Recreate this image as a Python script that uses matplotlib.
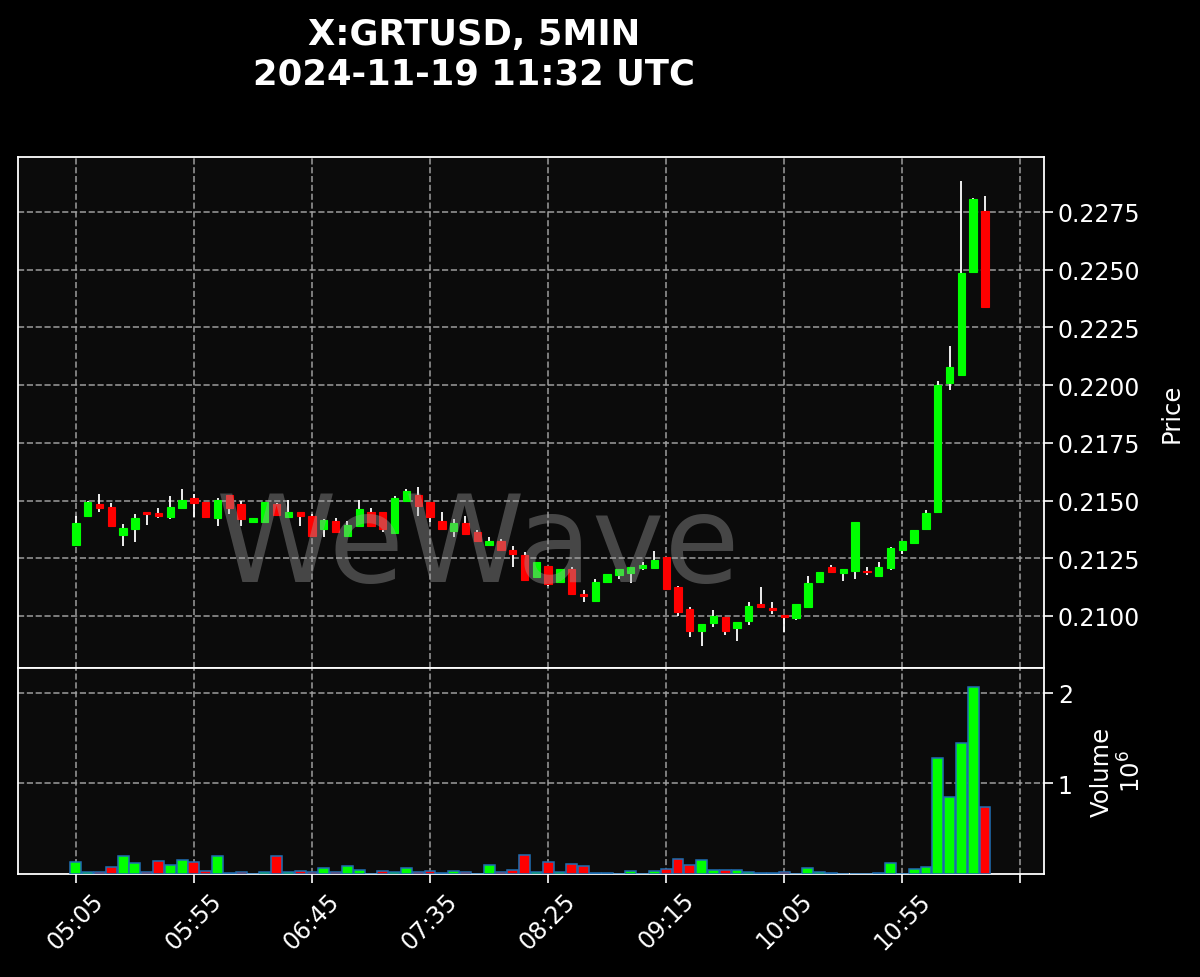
import matplotlib

matplotlib.use("Agg")
import matplotlib.pyplot as plt
import numpy as np

plt.rcParams["font.family"] = ["DejaVu Sans"]

TITLE = "X:GRTUSD, 5MIN\n2024-11-19 11:32 UTC"

opens = [
    0.21308, 0.21433, 0.21485, 0.21472, 0.21351, 0.21377, 0.21450, 0.21446, 0.21429, 0.21468,
    0.21511, 0.21494, 0.21425, 0.21524, 0.21485, 0.21407, 0.21407, 0.21485, 0.21429, 0.21450,
    0.21433, 0.21377, 0.21412, 0.21347, 0.21390, 0.21450, 0.21450, 0.21360, 0.21498, 0.21524,
    0.21494, 0.21412, 0.21368, 0.21403, 0.21364, 0.21308, 0.21325, 0.21286, 0.21264, 0.21169,
    0.21217, 0.21147, 0.21204, 0.21095, 0.21065, 0.21147, 0.21178, 0.21186, 0.21208, 0.21208,
    0.21256, 0.21126, 0.21030, 0.20935, 0.20970, 0.20996, 0.20948, 0.20978, 0.21052, 0.21035,
    0.21004, 0.20991, 0.21039, 0.21147, 0.21212, 0.21186, 0.21195, 0.21195, 0.21173, 0.21208,
    0.21286, 0.21316, 0.21377, 0.21450, 0.22009, 0.22044, 0.22490, 0.22754,
]
highs = [
    0.21433, 0.21498, 0.21528, 0.21489, 0.21399, 0.21442, 0.21450, 0.21468, 0.21520, 0.21550,
    0.21528, 0.21494, 0.21511, 0.21524, 0.21498, 0.21425, 0.21494, 0.21489, 0.21502, 0.21450,
    0.21442, 0.21420, 0.21425, 0.21412, 0.21502, 0.21468, 0.21450, 0.21520, 0.21550, 0.21559,
    0.21494, 0.21450, 0.21420, 0.21433, 0.21373, 0.21342, 0.21334, 0.21303, 0.21277, 0.21234,
    0.21217, 0.21204, 0.21212, 0.21113, 0.21160, 0.21182, 0.21204, 0.21212, 0.21234, 0.21282,
    0.21256, 0.21130, 0.21039, 0.20965, 0.21026, 0.20996, 0.20974, 0.21061, 0.21126, 0.21061,
    0.21004, 0.21052, 0.21173, 0.21191, 0.21221, 0.21204, 0.21407, 0.21212, 0.21234, 0.21299,
    0.21325, 0.21373, 0.21459, 0.22018, 0.22170, 0.22884, 0.22811, 0.22819,
]
lows = [
    0.21308, 0.21433, 0.21450, 0.21390, 0.21303, 0.21321, 0.21394, 0.21425, 0.21420, 0.21468,
    0.21429, 0.21425, 0.21390, 0.21442, 0.21390, 0.21403, 0.21407, 0.21437, 0.21429, 0.21390,
    0.21347, 0.21342, 0.21360, 0.21347, 0.21390, 0.21390, 0.21364, 0.21360, 0.21498, 0.21433,
    0.21407, 0.21377, 0.21342, 0.21355, 0.21325, 0.21308, 0.21286, 0.21212, 0.21156, 0.21169,
    0.21130, 0.21147, 0.21095, 0.21061, 0.21065, 0.21147, 0.21160, 0.21143, 0.21199, 0.21208,
    0.21117, 0.21000, 0.20909, 0.20870, 0.20952, 0.20918, 0.20892, 0.20961, 0.21039, 0.21009,
    0.20931, 0.20983, 0.21039, 0.21147, 0.21191, 0.21152, 0.21160, 0.21178, 0.21173, 0.21199,
    0.21269, 0.21312, 0.21377, 0.21446, 0.21979, 0.22044, 0.22490, 0.22338,
]
closes = [
    0.21403, 0.21494, 0.21468, 0.21390, 0.21381, 0.21425, 0.21442, 0.21433, 0.21472, 0.21502,
    0.21489, 0.21429, 0.21502, 0.21468, 0.21420, 0.21425, 0.21494, 0.21437, 0.21450, 0.21433,
    0.21347, 0.21416, 0.21364, 0.21394, 0.21463, 0.21390, 0.21377, 0.21511, 0.21541, 0.21476,
    0.21429, 0.21377, 0.21403, 0.21355, 0.21325, 0.21325, 0.21286, 0.21269, 0.21156, 0.21234,
    0.21139, 0.21204, 0.21095, 0.21087, 0.21147, 0.21182, 0.21204, 0.21212, 0.21221, 0.21243,
    0.21117, 0.21017, 0.20935, 0.20965, 0.21000, 0.20935, 0.20974, 0.21043, 0.21039, 0.21026,
    0.20996, 0.21052, 0.21143, 0.21191, 0.21191, 0.21204, 0.21407, 0.21191, 0.21212, 0.21295,
    0.21325, 0.21373, 0.21446, 0.22001, 0.22079, 0.22486, 0.22806, 0.22338,
]
# volume in millions
volumes = [
    0.133, 0.022, 0.022, 0.074, 0.195, 0.12, 0.022, 0.144, 0.096, 0.151,
    0.133, 0.03, 0.195, 0.015, 0.026, 0.004, 0.026, 0.203, 0.022, 0.033,
    0.022, 0.07, 0.022, 0.085, 0.044, 0.004, 0.03, 0.026, 0.066, 0.022,
    0.033, 0.015, 0.03, 0.022, 0.004, 0.1, 0.022, 0.044, 0.21, 0.022,
    0.13, 0.026, 0.114, 0.085, 0.007, 0.015, 0.004, 0.033, 0.004, 0.03,
    0.055, 0.166, 0.103, 0.158, 0.048, 0.048, 0.048, 0.018, 0.015, 0.011,
    0.022, 0.004, 0.066, 0.026, 0.015, 0.004, 0.004, 0.003, 0.007, 0.12,
    0.004, 0.06, 0.08, 1.28, 0.85, 1.44, 2.06, 0.74,
]
tick_pos = [0, 10, 20, 30, 40, 50, 60, 70, 80]
tick_labels = ["05:05", "05:55", "06:45", "07:35", "08:25", "09:15", "10:05", "10:55", ""]
price_ticks = [0.2100, 0.2125, 0.2150, 0.2175, 0.2200, 0.2225, 0.2250, 0.2275]

UP = "#00ff00"
DOWN = "#ff0000"
PANEL = "#0b0b0b"
GRID = "#a0a0a0"


def style_axis(ax):
    ax.set_facecolor(PANEL)
    for sp in ax.spines.values():
        sp.set_color("white")
        sp.set_linewidth(1.3)
    ax.tick_params(colors="white", labelsize=17, width=1.2, length=6.5)
    ax.yaxis.tick_right()
    ax.yaxis.set_label_position("right")
    ax.grid(True, linestyle="--", color=GRID, linewidth=1.2, alpha=0.9)
    ax.set_axisbelow(True)


def main():
    o = np.array(opens)
    h = np.array(highs)
    l = np.array(lows)
    c = np.array(closes)
    v = np.array(volumes)
    x = np.arange(len(o))
    colors = np.where(c >= o, UP, DOWN)

    fig = plt.figure(figsize=(12, 9.78), dpi=100, facecolor="black")
    ax = fig.add_axes([0.015, 0.316, 0.855, 0.5225])
    axv = fig.add_axes([0.015, 0.1053, 0.855, 0.2106], sharex=ax)
    style_axis(ax)
    style_axis(axv)

    ax.vlines(x, l, h, color="white", linewidth=1.3, zorder=2)
    body = np.maximum(np.abs(c - o), 0.00004)
    ax.bar(x, body, bottom=np.minimum(o, c), width=0.62, color=colors,
           edgecolor=colors, linewidth=0.8, zorder=3)

    ax.text(34.1, 0.21152, "WeWave", ha="center", va="baseline", fontsize=88,
            color="#a0a0a0", alpha=0.4, zorder=5)

    ax.set_ylim(0.20775, 0.22988)
    ax.set_yticks(price_ticks)
    ax.set_yticklabels([f"{p:.4f}" for p in price_ticks])
    ax.set_ylabel("Price", color="white", fontsize=17.5, labelpad=14)
    ax.tick_params(axis="x", bottom=False, labelbottom=False)

    axv.bar(x, v, width=0.92, color=colors, edgecolor="#1f6fb4", linewidth=1.1, zorder=3)
    axv.set_ylim(0, 2.27)
    axv.set_yticks([1, 2])
    axv.set_yticklabels(["1", "2"])
    axv.set_ylabel("Volume\n$10^{6}$", color="white", fontsize=17.5, labelpad=12)

    axv.set_xlim(-4.9, 82.0)
    axv.set_xticks(tick_pos)
    axv.set_xticklabels(tick_labels, rotation=45, ha="center")

    fig.suptitle(TITLE, color="white", fontsize=25.5, fontweight="bold", x=0.395, y=0.982)
    fig.savefig("out.png", dpi=100, facecolor="black")
    plt.close(fig)


if __name__ == "__main__":
    main()
